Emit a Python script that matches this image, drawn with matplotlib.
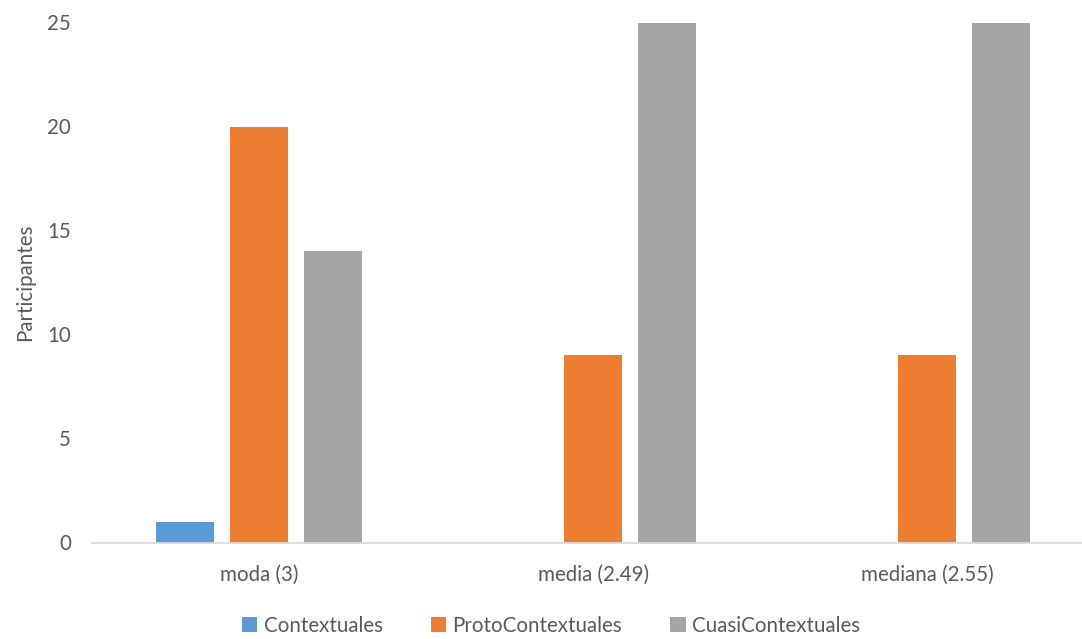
import matplotlib
matplotlib.use("Agg")
import matplotlib.pyplot as plt
import numpy as np

categories = ["moda (3)", "media (2.49)", "mediana (2.55)"]
series_names = ["Contextuales", "ProtoContextuales", "CuasiContextuales"]
contextuales = [1, 0, 0]
proto = [20, 9, 9]
cuasi = [14, 25, 25]
y_ticks = [0, 5, 10, 15, 20, 25]

colors = ["#5B9BD5", "#ED7D31", "#A5A5A5"]
text_color = "#595959"
fs = 14.8

plt.rcParams["font.family"] = ["Lato", "DejaVu Sans"]

W, H, DPI = 1082, 639, 100
fig = plt.figure(figsize=(W / DPI, H / DPI), dpi=DPI)

# axes in pixel coordinates: left 92, bottom line at 542.5, top at 22.5
left_px, right_px = 92, 1082
top_px, bottom_px = 22.5, 542.5
ax = fig.add_axes([left_px / W, (H - bottom_px) / H,
                   (right_px - left_px) / W, (bottom_px - top_px) / H])

cat_px = 334.0
x = np.arange(len(categories))
bar_w = 58 / cat_px
step = 74 / cat_px
for i, vals in enumerate([contextuales, proto, cuasi]):
    ax.bar(x + (i - 1) * step, vals, width=bar_w, color=colors[i],
           label=series_names[i], zorder=2)

ax.set_xlim(-0.5, -0.5 + (right_px - left_px) / cat_px)
ax.set_ylim(0, 25)
ax.set_yticks(y_ticks)
ax.set_xticks(x)
ax.set_xticklabels(categories)

for s in ["top", "right", "left"]:
    ax.spines[s].set_visible(False)
ax.spines["bottom"].set_color("#D9D9D9")
ax.spines["bottom"].set_linewidth(1.3)
ax.tick_params(axis="both", length=0, colors=text_color, labelsize=fs)
ax.tick_params(axis="y", pad=15)
ax.tick_params(axis="x", pad=16)
ax.set_ylabel("Participantes", color=text_color, fontsize=fs)
ax.yaxis.set_label_coords((35 - left_px) / (right_px - left_px), 0.5)

handles, labels = ax.get_legend_handles_labels()
leg = fig.legend(handles, labels, loc="center", bbox_to_anchor=(551 / W, 1 - 626 / H),
                 ncol=3, frameon=False, fontsize=fs, handlelength=0.75,
                 handleheight=0.75, handletextpad=0.3, columnspacing=2.35,
                 labelcolor=text_color)

fig.savefig("out.png", dpi=DPI)
